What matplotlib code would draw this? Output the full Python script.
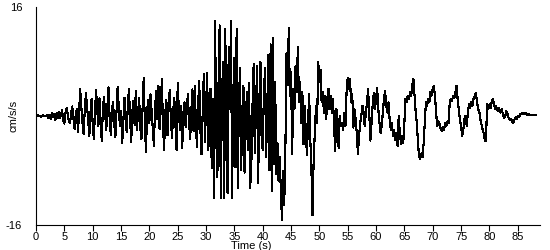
import numpy as np
import matplotlib
matplotlib.use("Agg")
import matplotlib.pyplot as plt

plt.rcParams['font.family'] = ['Liberation Sans', 'DejaVu Sans']

# acceleration record, one value every 0.2 s (cm/s/s)
dt = 0.2
accel = [
    0.0, 0.0, 0.1, 0.0, -0.1, 0.0, 0.1, 0.0, 0.0, 0.0,
    0.2, -0.3, 0.1, -0.4, 0.5, -0.2, 0.3, -0.6, 0.4, -0.3,
    0.6, -0.3, 0.2, 0.9, -0.6, -1.1, 0.4, 1.2, 0.3, -0.8,
    -1.0, 0.5, 1.4, -0.4, -1.9, 0.2, 1.0, -2.3, 0.6, 3.9,
    1.2, -1.0, -2.6, 0.8, 3.4, 1.5, -0.5, -3.0, 0.4, 2.5,
    -1.2, -3.4, 0.6, 3.8, 1.0, -1.5, 2.6, -0.8, -3.6, 1.1,
    2.8, 0.3, -2.1, 1.5, 4.2, -0.6, -2.8, 0.9, 2.0, -1.2,
    -3.1, 0.5, 4.3, 1.2, -1.5, 0.8, -4.0, -1.0, 2.7, 0.2,
    -2.4, 1.6, 4.0, -0.5, -3.8, 0.7, 2.2, -1.3, 3.6, -2.0,
    0.4, 2.6, -1.7, -3.4, 1.3, 5.6, -1.0, -5.3, 0.8, 2.4,
    -1.0, 3.2, 0.6, -2.2, -4.4, 1.0, 3.7, -0.4, 4.4, -1.9,
    0.9, 5.4, -1.0, -5.0, 0.5, 2.3, -2.8, 1.6, 3.8, -0.6,
    -3.3, 0.8, 2.6, -1.2, -5.0, 4.8, 0.9, -2.0, 1.5, -4.7,
    0.3, 2.0, -1.6, 1.0, 3.2, -0.8, -3.4, 0.6, 3.9, -2.2,
    4.4, -0.9, -4.6, 1.5, 5.2, -2.0, -5.6, 0.6, 6.2, -3.8,
    1.2, 6.3, -5.0, -1.0, 4.0, -7.6, 2.5, -12.0, 13.9, -3.0,
    -9.0, 4.5, 13.3, -12.0, 2.0, 8.0, -12.0, 12.8, -6.0, -11.3,
    10.2, 1.0, 14.0, -12.0, 3.0, 8.5, -7.5, 12.8, -10.5, 2.0,
    7.0, -8.0, 0.5, 4.4, -8.3, -2.0, 3.5, -5.0, 4.8, -10.5,
    -7.0, 1.5, 7.6, -5.5, 0.5, 7.3, -9.8, 2.0, 8.0, -3.0,
    -5.0, 3.0, 7.0, -6.0, 1.0, 9.0, -8.0, 10.5, -11.0, 11.4,
    -7.0, 5.0, -8.5, -4.0, -9.5, -6.0, -11.0, -15.2, -8.0, -13.0,
    -5.0, 9.2, 4.5, 12.9, 3.0, 6.5, -5.6, 4.0, 1.0, 7.3,
    3.5, 10.2, 2.0, 5.0, -1.0, 3.5, -4.1, 1.5, -2.0, -5.8,
    -1.0, 3.2, -3.5, -8.0, -14.6, -6.0, -2.5, 1.5, -1.0, 8.0,
    5.0, 6.8, 2.0, 3.5, 0.5, 3.0, -0.5, 2.5, 4.0, 1.0,
    3.0, 0.5, 2.5, -1.5, -5.1, 1.0, -0.5, -4.7, 0.0, -1.5,
    -1.0, -2.0, 0.5, -1.5, 3.5, 5.6, 4.0, 5.4, 2.0, 3.2,
    -1.7, 1.0, -0.5, -2.5, -5.6, -3.0, -1.0, 0.0, 1.5, 0.5,
    -1.5, 0.5, 2.0, 4.0, 0.5, -3.6, -1.0, 1.5, 3.4, 1.0,
    2.5, 4.1, 1.0, -1.0, -2.5, -1.5, 0.5, 2.5, 3.7, 1.5,
    0.5, 2.0, -0.5, -2.0, -1.0, -3.0, -2.0, -3.5, -2.5, -4.4,
    0.0, -2.5, -4.1, -3.0, -4.0, -1.0, 2.5, 2.0, 3.0, 2.5,
    3.5, 3.0, 4.5, 5.4, 3.0, 0.5, -1.0, -4.0, -6.0, -6.3,
    -5.5, -6.0, -4.0, -1.0, 2.0, 1.5, 2.5, 2.0, 3.5, 3.0,
    4.0, 4.4, 3.0, 0.5, -1.5, -0.8, -1.2, -1.8, -2.2, -1.6,
    -2.0, -1.0, -1.5, -0.8, -1.0, 2.0, 2.5, 2.2, 3.0, 2.6,
    3.5, 4.4, 2.5, 1.0, -0.5, -1.5, -2.9, -2.0, -0.5, 0.0,
    -1.5, 0.5, 1.7, 1.2, 2.0, 1.5, 2.5, 2.8, 3.4, 2.2,
    1.0, 0.8, -0.5, -1.2, -2.0, -2.5, -3.6, -3.6, 1.7, 1.0,
    1.7, 1.2, 2.0, 2.5, 1.8, 1.0, 1.4, 0.8, 1.2, 0.7,
    0.5, 1.0, 0.2, -0.3, 0.0, 0.7, 0.4, -0.3, -0.6, -0.4,
    -0.8, -1.0, -0.6, -0.2, -0.5, 0.0, -0.2, 0.2, 0.3, 0.4,
    0.5, 0.3, 0.4, 0.2, 0.3, 0.2, 0.2, 0.1, 0.1, 0.1,
    0.1, 0.1,
]
time = np.arange(len(accel)) * dt

x_ticks = list(range(0, 90, 5))

fig = plt.figure(figsize=(5.5, 2.5), dpi=100)
ax = fig.add_axes([0.0655, 0.1, 0.917, 0.872])

ax.plot(time, accel, color='black', linewidth=0.8, antialiased=False)

ax.set_xlim(0, 89)
ax.set_ylim(-16, 16)
ax.set_xticks(x_ticks)
ax.set_yticks([-16, 16])
ax.set_yticklabels(['-16', '16'])
ax.tick_params(axis='x', direction='out', length=4, width=0.8, labelsize=8, pad=1)
ax.tick_params(axis='y', length=0, labelsize=8, pad=10)

for side in ['top', 'right']:
    ax.spines[side].set_visible(False)
for side in ['left', 'bottom']:
    ax.spines[side].set_linewidth(0.8)

ax.set_xlabel('Time (s)', fontsize=8, labelpad=0)
ax.xaxis.set_label_coords(0.427, -0.072)
ax.set_ylabel('cm/s/s', fontsize=8)
ax.yaxis.set_label_coords(-0.034, 0.5)

fig.savefig('out.png', dpi=100)
